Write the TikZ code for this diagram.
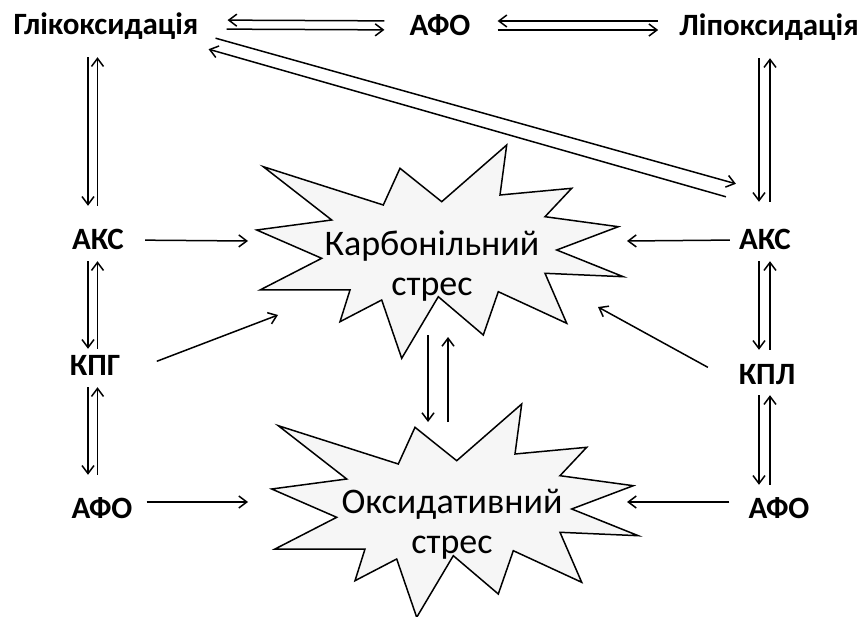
\documentclass[tikz,border=0pt]{standalone}
\usepackage{fontspec}
\setmainfont{Carlito}
\usetikzlibrary{arrows.meta}

\begin{document}
\begin{tikzpicture}[x=1pt,y=-1pt,
    lbl/.style={font=\fontsize{31}{36}\selectfont\bfseries, inner sep=0pt, text height=20pt, text depth=0pt},
    stresstext/.style={font=\fontsize{36}{40}\selectfont, align=center, inner sep=0pt},
    arr/.style={line width=1.5pt, -{Straight Barb[length=8pt,width=12pt]}},
    burstline/.style={draw, line width=1.5pt, fill=gray!7, line join=miter},
    burst/.pic={
      \path[burstline] (-168.7,-97.3) -- (-48.7,-59) -- (-32,-95.7) -- (9.7,-62.3)
        -- (74.7,-119) -- (68,-69) -- (139.7,-75.7) -- (113,-47.3) -- (186.3,-37.3)
        -- (124.7,-14) -- (191.3,12.7) -- (113,9.3) -- (134.7,59.3) -- (66.3,27.7)
        -- (51.3,71) -- (6.3,32.7) -- (-30.3,94.3) -- (-50.3,36) -- (-92,57.7)
        -- (-82,26) -- (-172,26) -- (-110.3,-5.7) -- (-175.3,-34) -- (-100.3,-44) -- cycle;
    }]
  \useasboundingbox (0,0) rectangle (864,617);

  % the two stress bursts
  \pic at (432,264) {burst};
  \pic at (447,523) {burst};
  \node[stresstext] (carb) at (432,266) {Карбонільний\\стрес};
  \node[stresstext] (oks) at (452,524) {Оксидативний\\стрес};

  \node[lbl] (glyk) at (106,25) {Глікоксидація};
  \node[lbl] (afoT) at (440,26) {АФО};
  \node[lbl] (lipo) at (769,26) {Ліпоксидація};
  \node[lbl] (aksL) at (98,240) {АКС};
  \node[lbl] (kpg) at (95,365) {КПГ};
  \node[lbl] (afoL) at (102,508) {АФО};
  \node[lbl] (aksR) at (765,240) {АКС};
  \node[lbl] (kpl) at (767,374) {КПЛ};
  \node[lbl] (afoR) at (779,508) {АФО};

  \coordinate (cLa) at (88,0);
  \coordinate (cLb) at (97.5,0);
  \coordinate (cRa) at (759,0);
  \coordinate (cRb) at (770,0);
  \coordinate (carbW) at (248,241);
  \coordinate (carbSW) at (278,315);
  \coordinate (carbE) at (627,241);
  \coordinate (carbSE) at (598,307);
  \coordinate (oksW) at (248,502);
  \coordinate (oksE) at (627,502);

  % top row
  \draw[arr, shorten <=25pt, shorten >=29pt] ([yshift=5pt]afoT.west) -- ([yshift=5pt]glyk.east);
  \draw[arr, shorten <=28pt, shorten >=25pt] ([yshift=-4pt]glyk.east) -- ([yshift=-4pt]afoT.west);
  \draw[arr, shorten <=21pt, shorten >=27pt] ([yshift=5pt]lipo.west) -- ([yshift=5pt]afoT.east);
  \draw[arr, shorten <=27pt, shorten >=21pt] ([yshift=-4pt]afoT.east) -- ([yshift=-4pt]lipo.west);
  \draw[arr] ([shift={(17,3)}]glyk.south east) -- ([shift={(-3,-46)}]aksR.north west);
  \draw[arr] ([shift={(-13,-33)}]aksR.north west) -- ([shift={(10,14)}]glyk.south east);

  % left column
  \draw[arr, shorten <=22pt, shorten >=24pt] (glyk.south -| cLa) -- (aksL.north -| cLa);
  \draw[arr, shorten <=24pt, shorten >=22pt] (aksL.north -| cLb) -- (glyk.south -| cLb);
  \draw[arr, shorten <=11pt, shorten >=6pt] (aksL.south -| cLa) -- (kpg.north -| cLa);
  \draw[arr, shorten <=6pt, shorten >=11pt] (kpg.north -| cLb) -- (aksL.south -| cLb);
  \draw[arr, shorten <=12pt, shorten >=23pt] (kpg.south -| cLa) -- (afoL.north -| cLa);
  \draw[arr, shorten <=23pt, shorten >=12pt] (afoL.north -| cLb) -- (kpg.south -| cLb);

  % right column
  \draw[arr, shorten <=22pt, shorten >=28pt] (lipo.south -| cRa) -- (aksR.north -| cRa);
  \draw[arr, shorten <=28pt, shorten >=22pt] (aksR.north -| cRb) -- (lipo.south -| cRb);
  \draw[arr, shorten <=11pt, shorten >=14pt] (aksR.south -| cRa) -- (kpl.north -| cRa);
  \draw[arr, shorten <=14pt, shorten >=11pt] (kpl.north -| cRb) -- (aksR.south -| cRb);
  \draw[arr, shorten <=11pt, shorten >=13pt] (kpl.south -| cRa) -- (afoR.north -| cRa);
  \draw[arr, shorten <=13pt, shorten >=11pt] (afoR.north -| cRb) -- (kpl.south -| cRb);

  % into the bursts
  \draw[arr, shorten <=21pt] (aksL.east) -- (carbW);
  \draw[arr, shorten <=39pt] (kpg.south east) -- (carbSW);
  \draw[arr, shorten <=14pt] ([yshift=6pt]afoL.east) -- (oksW);
  \draw[arr, shorten <=9pt] (aksR.west) -- (carbE);
  \draw[arr, shorten <=35pt] (kpl.south west) -- (carbSE);
  \draw[arr, shorten <=19pt] ([yshift=6pt]afoR.west) -- (oksE);

  \draw[arr, shorten <=69pt, shorten >=102pt] ([xshift=-4pt]carb.center) -- ([xshift=-4pt]carb.center |- oks.center);
  \draw[arr, shorten <=102pt, shorten >=71pt] ([xshift=16pt]carb.center |- oks.center) -- ([xshift=16pt]carb.center);
\end{tikzpicture}
\end{document}
